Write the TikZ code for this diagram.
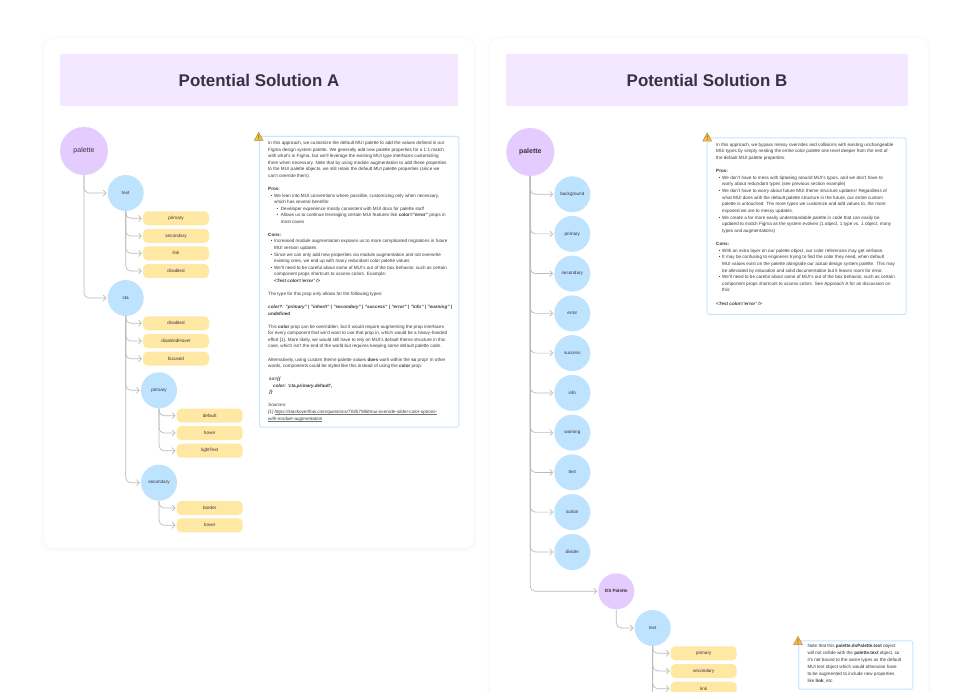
\documentclass[tikz,border=0pt]{standalone}
\usepackage{fontspec}
\setmainfont{Liberation Sans}
\usetikzlibrary{arrows.meta}
\definecolor{headFill}{HTML}{F3E8FF}
\definecolor{purpleFill}{HTML}{E4CCFF}
\definecolor{blueFill}{HTML}{BDE3FF}
\definecolor{pillFill}{HTML}{FFE8A3}
\definecolor{noteLine}{HTML}{C7E5FF}
\definecolor{linkGrey}{HTML}{BBBBBB}
\definecolor{inkDark}{HTML}{37333F}
\definecolor{inkNote}{HTML}{3A3A3A}
\definecolor{warnFill}{HTML}{F7C04A}
\definecolor{warnLine}{HTML}{B08A3A}
\tikzstyle{linkArrow} = [draw=linkGrey, line width=0.7pt, rounded corners=5pt, shorten >=1pt,
   -{Straight Barb[length=2.8pt,width=6pt]}]
\tikzstyle{headBox} = [fill=headFill, rounded corners=1pt, minimum height=52pt, text=inkDark,
   font=\fontsize{16.9}{20}\selectfont\bfseries]
\tikzstyle{bigCircle} = [circle, fill=purpleFill, minimum size=48pt, inner sep=0pt, text=inkDark,
   font=\fontsize{7}{8}\selectfont]
\tikzstyle{midCircle} = [circle, fill=purpleFill, minimum size=36pt, inner sep=0pt, text=inkDark,
   font=\fontsize{4.6}{5}\selectfont\bfseries]
\tikzstyle{blueCircle} = [circle, fill=blueFill, minimum size=36pt, inner sep=0pt, text=inkDark,
   font=\fontsize{4.6}{5}\selectfont]
\tikzstyle{pillNode} = [rectangle, fill=pillFill, rounded corners=4.5pt, minimum width=66pt,
   minimum height=14pt, inner sep=0pt, text=inkDark, font=\fontsize{4.6}{5}\selectfont]
\tikzstyle{noteBox} = [draw=noteLine, line width=1pt, fill=white, rounded corners=1.5pt, inner sep=0pt,
   anchor=north west]
\tikzstyle{noteText} = [anchor=north west, align=left, inner sep=0pt, text=inkNote]
\newcommand{\warnIcon}[2]{%
  \draw[fill=warnFill, draw=warnLine, line width=0.5pt, line join=round]
    (#1-4.4,#2+4.1) -- (#1,#2-4.1) -- (#1+4.4,#2+4.1) -- cycle;
  \fill[warnLine!70!black] (#1-0.4,#2-1.5) rectangle (#1+0.4,#2+1.5) (#1-0.4,#2+2.1) rectangle (#1+0.4,#2+3);
}
\newcommand{\bulOne}{\hspace*{2.6pt}\makebox[3.4pt][l]{•}}
\newcommand{\contOne}{\hspace*{6pt}}
\newcommand{\bulTwo}{\hspace*{8.4pt}\makebox[4.3pt][l]{•}}
\newcommand{\contTwo}{\hspace*{12.7pt}}
\newcommand{\linkLine}[1]{\setbox0\hbox{#1}\rlap{\textcolor{inkNote!70}{\rule[-0.8pt]{\wd0}{0.25pt}}}\box0}
\begin{document}
\begin{tikzpicture}[x=1pt,y=-1pt]
    \useasboundingbox (0,0) rectangle (971,692);
    \clip (0,0) rectangle (971,692);
    \fill[white] (0,0) rectangle (971,692);
    % cards
    \foreach \s/\o in {4/.004,3/.005,2/.007,1/.009} {
      \fill[black, opacity=\o, rounded corners=11pt] (44-\s,38-\s+1) rectangle (474+\s,548+\s+1);
      \fill[black, opacity=\o, rounded corners=11pt] (490-\s,38-\s+1) rectangle (928+\s,720);
    }
    \fill[white, rounded corners=10pt] (44,38) rectangle (474,548);
    \fill[white, rounded corners=10pt] (490,38) rectangle (928,720);
    % headings
    \node[headBox, minimum width=398pt] (headA) at (259,80) {Potential Solution A};
    \node[headBox, minimum width=402pt] (headB) at (707,80) {Potential Solution B};
    % tree A
    \node[bigCircle] (palA) at (84,151) {palette};
    \node[blueCircle] (textA) at (125.7,193) {text};
    \node[pillNode] (textPrimA) at (176,218.3) {primary};
    \node[pillNode] (textSecA) at (176,236) {secondary};
    \node[pillNode] (textLinkA) at (176,253.3) {link};
    \node[pillNode] (textDisA) at (176,271) {disabled};
    \node[blueCircle] (ctaA) at (125.7,298) {cta};
    \node[pillNode] (ctaDis) at (176,323.3) {disabled};
    \node[pillNode] (ctaDisHov) at (176,341) {disabledHover};
    \node[pillNode] (ctaFoc) at (176,358.7) {focused};
    \node[blueCircle] (ctaPrim) at (159,390.3) {primary};
    \node[pillNode] (primDef) at (209.7,415.7) {default};
    \node[pillNode] (primHov) at (209.7,433) {hover};
    \node[pillNode] (primLight) at (209.7,450.7) {lightText};
    \node[blueCircle] (ctaSec) at (159,482.7) {secondary};
    \node[pillNode] (secBord) at (209.7,508) {border};
    \node[pillNode] (secHov) at (209.7,525.3) {hover};
    \draw [linkArrow] (palA.south) |- (textA.west);
    \draw [linkArrow] (palA.south) |- (ctaA.west);
    \draw [linkArrow] (textA.south) |- (textPrimA.west);
    \draw [linkArrow] (textA.south) |- (textSecA.west);
    \draw [linkArrow] (textA.south) |- (textLinkA.west);
    \draw [linkArrow] (textA.south) |- (textDisA.west);
    \draw [linkArrow] (ctaA.south) |- (ctaDis.west);
    \draw [linkArrow] (ctaA.south) |- (ctaDisHov.west);
    \draw [linkArrow] (ctaA.south) |- (ctaFoc.west);
    \draw [linkArrow] (ctaA.south) |- (ctaPrim.west);
    \draw [linkArrow] (ctaA.south) |- (ctaSec.west);
    \draw [linkArrow] (ctaPrim.south) |- (primDef.west);
    \draw [linkArrow] (ctaPrim.south) |- (primHov.west);
    \draw [linkArrow] (ctaPrim.south) |- (primLight.west);
    \draw [linkArrow] (ctaSec.south) |- (secBord.west);
    \draw [linkArrow] (ctaSec.south) |- (secHov.west);
    % tree B
    \node[bigCircle, font=\fontsize{7}{8}\selectfont\bfseries] (palB) at (530.3,152) {palette};
    \node[blueCircle] (bgB) at (572.3,194.3) {background};
    \node[blueCircle] (primB) at (572.3,233.9) {primary};
    \node[blueCircle] (secB) at (572.3,273.6) {secondary};
    \node[blueCircle] (errB) at (572.3,313.4) {error};
    \node[blueCircle] (sucB) at (572.3,353.1) {success};
    \node[blueCircle] (infoB) at (572.3,392.9) {info};
    \node[blueCircle] (warnB) at (572.3,432.6) {warning};
    \node[blueCircle] (textB) at (572.3,472.4) {text};
    \node[blueCircle] (actB) at (572.3,512.1) {action};
    \node[blueCircle] (divB) at (572.3,552) {divider};
    \node[midCircle] (dsB) at (616.3,591.3) {DS Palette};
    \node[blueCircle] (dsText) at (652.7,628) {text};
    \node[pillNode] (dsPrim) at (703.7,653.3) {primary};
    \node[pillNode] (dsSec) at (703.7,671) {secondary};
    \node[pillNode] (dsLink) at (703.7,688.7) {link};
    \coordinate (dsEnd) at (652.7,700);
    \draw [linkArrow] (palB.south) |- (bgB.west);
    \draw [linkArrow] (palB.south) |- (primB.west);
    \draw [linkArrow] (palB.south) |- (secB.west);
    \draw [linkArrow] (palB.south) |- (errB.west);
    \draw [linkArrow] (palB.south) |- (sucB.west);
    \draw [linkArrow] (palB.south) |- (infoB.west);
    \draw [linkArrow] (palB.south) |- (warnB.west);
    \draw [linkArrow] (palB.south) |- (textB.west);
    \draw [linkArrow] (palB.south) |- (actB.west);
    \draw [linkArrow] (palB.south) |- (divB.west);
    \draw [linkArrow] (palB.south) |- (dsB.west);
    \draw [linkArrow] (dsB.south) |- (dsText.west);
    \draw [linkArrow] (dsText.south) |- (dsPrim.west);
    \draw [linkArrow] (dsText.south) |- (dsSec.west);
    \draw [linkArrow] (dsText.south) |- (dsLink.west);
    \draw [draw=linkGrey, line width=0.7pt] (dsText.south) -- (dsEnd);
    % notes
    \node[noteBox, minimum width=199.3pt, minimum height=290.7pt] (boxA) at (259,136) {};
    \node[noteText, font=\fontsize{4.6}{6.56}\selectfont] (noteA) at (268,141) {%
      In this approach, we customize the default MUI palette to add the values defined in our\\
      Figma design system palette. We generally add new palette properties for a 1:1 match\\
      with what's in Figma, but we'll leverage the existing MUI type interfaces customizing\\
      them when necessary. Note that by using module augmentation to add these properties\\
      to the MUI palette objects, we still retain the default MUI palette properties (since we\\
      can't override them).\\
      ~\\
      \textbf{Pros:}\\
      \bulOne We lean into MUI conventions where possible, customizing only when necessary,\\
      \contOne which has several benefits:\\
      \bulTwo Developer experience mostly consistent with MUI docs for palette stuff\\
      \bulTwo Allows us to continue leveraging certain MUI features like \textbf{color="error"} props in\\
      \contTwo most cases\\
      ~\\
      \textbf{Cons:}\\
      \bulOne Increased module augmentation exposes us to more complicated migrations in future\\
      \contOne MUI version updates\\
      \bulOne Since we can only add new properties via module augmentation and not overwrite\\
      \contOne existing ones, we end up with many redundant color palette values\\
      \bulOne We'll need to be careful about some of MUI's out of the box behavior, such as certain\\
      \contOne component props shortcuts to access colors. Example:\\
      \contOne \textbf{\textit{<Test color='error' />}}\\
      ~\\
      The type for this prop only allows for the following types:\\
      ~\\
      \textbf{\textit{color?: "primary" | "inherit" | "secondary" | "success" | "error" | "info" | "warning" |}}\\
      \textbf{\textit{undefined}}\\
      ~\\
      This \textbf{color} prop can be overridden, but it would require augmenting the prop interfaces\\
      for every component that we'd want to use that prop in, which would be a heavy-handed\\
      effort [1]. More likely, we would still have to rely on MUI's default theme structure in this\\
      case, which isn't the end of the world but requires keeping some default palette code.\\
      ~\\
      Alternatively, using custom theme palette values \textbf{does} work within the \textbf{sx} prop! In other\\
      words, components could be styled like this instead of using the \textbf{color} prop:\\
      ~\\
      \hspace*{1pt}\textbf{\textit{sx=\{\{}}\\
      \hspace*{5pt}\textbf{\textit{color: 'cta.primary.default',}}\\
      \hspace*{1pt}\textbf{\textit{\}\}}}\\
      ~\\
      \textit{Sources:}\\
      \textit{[1] \linkLine{https://stackoverflow.com/questions/70457958/mui-override-slider-color-options-}}\\
      \textit{\linkLine{with-module-augmentation}}};
    \warnIcon{258.7}{136.4}
    \node[noteBox, minimum width=199pt, minimum height=176.7pt] (boxB) at (706.7,137.3) {};
    \node[noteText, font=\fontsize{4.6}{6.63}\selectfont] (noteB) at (716,142.6) {%
      In this approach, we bypass messy overrides and collisions with existing unchangeable\\
      MUI types by simply nesting the entire color palette one level deeper from the rest of\\
      the default MUI palette properties.\\
      ~\\
      \textbf{Pros:}\\
      \bulOne We don't have to mess with tiptoeing around MUI's typos, and we don't have to\\
      \contOne worry about redundant types (see previous section example)\\
      \bulOne We don't have to worry about future MUI theme structure updates! Regardless of\\
      \contOne what MUI does with the default palette structure in the future, our entire custom\\
      \contOne palette is untouched. The more types we customize and add values to, the more\\
      \contOne exposed we are to messy updates.\\
      \bulOne We create a far more easily understandable palette in code that can easily be\\
      \contOne updated to match Figma as the system evolves (1 object, 1 type vs. 1 object, many\\
      \contOne types and augmentations)\\
      ~\\
      \textbf{Cons:}\\
      \bulOne With an extra layer on our palette object, our color references may get verbose.\\
      \bulOne It may be confusing to engineers trying to find the color they need, when default\\
      \contOne MUI values exist on the palette alongside our actual design system palette. This may\\
      \contOne be alleviated by education and solid documentation but it leaves room for error.\\
      \bulOne We'll need to be careful about some of MUI's out of the box behavior, such as certain\\
      \contOne component props shortcuts to access colors. See Approach A for an discussion on\\
      \contOne this:\\
      ~\\
      \textbf{\textit{<Test color='error' />}}};
    \warnIcon{707.2}{137}
    \node[noteBox, minimum width=114.3pt, minimum height=48.4pt] (boxC) at (798,640.3) {};
    \node[noteText, font=\fontsize{4.6}{6.87}\selectfont] (noteC) at (807.3,644.2) {%
      Note that this \textbf{palette.dsPalette.text} object\\
      will not collide with the \textbf{palette.text} object, so\\
      it's not bound to the same types as the default\\
      MUI text object which would otherwise have\\
      to be augmented to include new properties\\
      like \textbf{link}, etc.};
    \warnIcon{798}{640.5}
\end{tikzpicture}
\end{document}
